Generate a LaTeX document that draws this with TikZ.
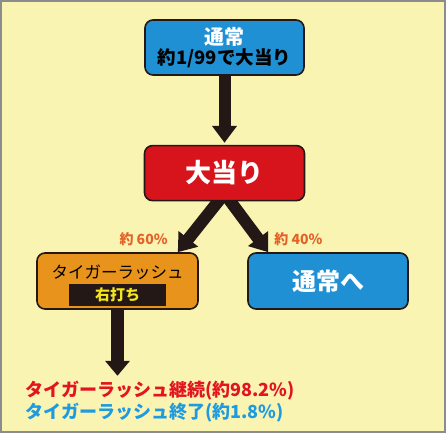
\documentclass[tikz,border=0pt]{standalone}
\usepackage{fontspec}
\setmainfont{Noto Sans CJK JP}
\usetikzlibrary{arrows.meta, positioning, backgrounds}

\definecolor{paper}{HTML}{FAF4B2}
\definecolor{frame}{HTML}{8C8C8C}
\definecolor{ink}{HTML}{231815}
\definecolor{boxblue}{HTML}{1F90D3}
\definecolor{hitred}{HTML}{D7141B}
\definecolor{rushorange}{HTML}{E8931B}
\definecolor{rateorange}{HTML}{E2622A}
\definecolor{shotyellow}{HTML}{F3E41E}
\definecolor{contred}{HTML}{E3141F}
\definecolor{finblue}{HTML}{1E9BE0}

\begin{document}
\begin{tikzpicture}[x=1pt, y=-1pt, >={Triangle[length=17pt,width=24pt]},
        box/.style={rectangle, draw=ink, line width=1.6pt, rounded corners=8pt, minimum width=160pt, minimum height=55pt, align=center, font=\bfseries},
        tag/.style={rectangle, fill=ink, text=shotyellow, minimum width=97pt, minimum height=22pt, inner sep=0pt, font=\bfseries\fontsize{15}{16}\selectfont},
        flow/.style={->, draw=ink, fill=ink, line width=12pt},
        rate/.style={text=rateorange, inner sep=0pt, font=\bfseries\fontsize{14}{16}\selectfont},
        result/.style={inner sep=0pt, font=\bfseries\fontsize{18}{20}\selectfont},
        point/.style={coordinate}]
    \useasboundingbox (0,0) rectangle (446,433);

    \node (start) [box, fill=boxblue, minimum width=159pt, inner sep=0pt] at (224.5,47.5)
        {\textcolor{white}{\fontsize{20}{22}\selectfont 通常}\\[1pt]{\fontsize{18.5}{20}\selectfont 約1/99で大当り}};
    \node (hit) [box, fill=hitred, text=white, font=\bfseries\fontsize{26}{30}\selectfont, below=69pt of start] {大当り};
    \node (rush) [box, fill=rushorange, minimum width=161pt, minimum height=56pt] at (117.5,281) {};
    \node (rushname) [font=\fontsize{16.5}{18}\selectfont] at ([yshift=9pt]rush.center) {タイガーラッシュ};
    \node (shot) [tag, above=4pt of rush.south] {右打ち};
    \node (back) [box, fill=boxblue, text=white, minimum height=56pt, font=\bfseries\fontsize{24}{28}\selectfont] at (328,281) {通常へ};

    % branch points
    \node (fork) [point] at ([yshift=8pt]hit.south) {};
    \node (tipL) [point] at ([xshift=-21pt]rush.north east) {};
    \node (tipR) [point] at ([xshift=21pt]back.north west) {};
    \node (drop) [point] at ([yshift=-66pt]rush.south) {};

    \node (rate60) [rate, above left=6pt and 10pt of tipL] {約 60\%};
    \node (rate40) [rate, above right=6pt and 6pt of tipR] {約 40\%};

    \node (cont) [result, text=contred, anchor=west] at (25,391) {タイガーラッシュ継続(約98.2\%)};
    \node (fin) [result, text=finblue, anchor=west] at (25,413) {タイガーラッシュ終了(約1.8\%)};

    \begin{scope}[on background layer]
        \draw[draw=frame, fill=paper, line width=2pt] (1,1) rectangle (445,432);
        % Main flow
        \draw [flow, shorten >=2pt] (start) -- (hit);
        \draw [flow] (fork) -- (tipL);
        \draw [flow] (fork) -- (tipR);
        \draw [flow, line width=13pt, -{Triangle[length=15pt,width=24pt]}] (rush) -- (drop);
    \end{scope}
\end{tikzpicture}
\end{document}
